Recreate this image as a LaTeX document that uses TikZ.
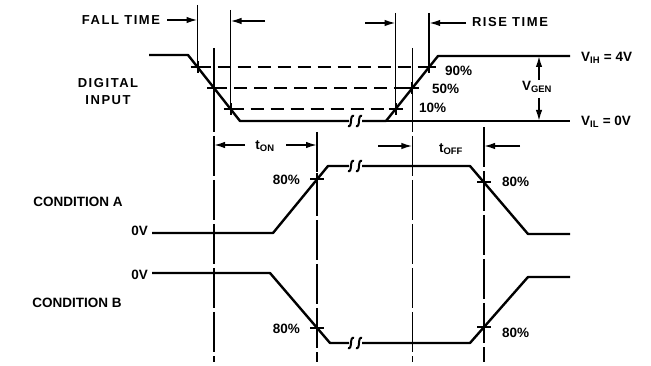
\documentclass[tikz,border=0pt]{standalone}
\usepackage{fontspec}
\setmainfont{Liberation Sans}
\usetikzlibrary{arrows.meta}

\tikzset{
    wave/.style={line width=2.4pt, line join=round},
    limit/.style={line width=1.5pt},
    marker/.style={line width=1.5pt, dash pattern=on 40pt off 4pt},
    level/.style={line width=1.5pt, dash pattern=on 13pt off 7pt},
    dim/.style={line width=1.6pt, -{Latex[length=11pt,width=6.5pt]}},
    txt/.style={font=\bfseries\fontsize{13.5}{17}\selectfont, inner sep=0pt},
    wide/.style={font=\bfseries\fontsize{13}{17}\selectfont\addfontfeature{LetterSpace=12}},
    brk/.style={line width=2pt},
    tick/.style={line width=2pt},
}
\newcommand{\brkmark}[2]{% two s-shaped break marks
    \foreach \dx in {0,8} {
        \draw[brk] (#1+\dx+3,#2-5) .. controls (#1+\dx-2,#2-7) and (#1+\dx+2,#2+7) .. (#1+\dx-3,#2+5);
    }
}

\begin{document}
\begin{tikzpicture}[x=1pt, y=-1pt]
    \useasboundingbox (0,0) rectangle (651,366);

    % crossing points
    \coordinate (f90) at (197.5,67);
    \coordinate (f50) at (214,88);
    \coordinate (f10) at (230.5,109);
    \coordinate (r10) at (395.6,109);
    \coordinate (r50) at (412.4,88);
    \coordinate (r90) at (429.2,67);
    \coordinate (a80) at (317,179.4);
    \coordinate (b80) at (317,327.8);
    \coordinate (a80r) at (484,182.4);
    \coordinate (b80r) at (484,327);

    % digital input
    \draw[wave] (149,55) -- (188,55) -- (240,121) -- (349,121);
    \draw[wave] (362,121) -- (386,121) -- (438,56) -- (570,56);
    \draw[limit] (386,121) -- (570,121);
    \brkmark{351}{121}

    % condition A
    \draw[wave] (152,233) -- (273,233) -- (328,166) -- (349,166);
    \draw[wave] (362,166) -- (470,166) -- (528,234) -- (570,234);
    \brkmark{351}{166}

    % condition B
    \draw[wave] (152,273) -- (270,273) -- (330,343) -- (349,343);
    \draw[wave] (362,343) -- (470,343) -- (528,277) -- (570,277);
    \brkmark{351}{343}

    \draw[level] (f90) -- (r90);
    \draw[level] (f50) -- (r50);
    \draw[level] (f10) -- (r10);

    \foreach \p in {f90,f50,f10,r10,r50,r90,a80,b80,a80r,b80r} {
        \draw[tick] ([xshift=-7pt]\p) -- ([xshift=7pt]\p);
        \draw[tick] ([yshift=-6pt]\p) -- ([yshift=6pt]\p);
    }

    \draw[limit] (f90 |- 0,5) -- (f90);
    \draw[limit] (f10 |- 0,10) -- (f10 |- 0,103);
    \draw[limit] (r10 |- 0,13) -- (r10 |- 0,103);
    \draw[limit] (r90 |- 0,13) -- (r90);

    \draw[marker] (f50 |- 0,48) -- (f50 |- 0,362);
    \draw[marker] (a80 |- 0,132) -- (a80 |- 0,362);
    \draw[marker] (r50 |- 0,48) -- (r50 |- 0,362);
    \draw[marker] (a80r |- 0,127) -- (a80r |- 0,362);

    % dimension arrows
    \coordinate (ft1) at (167,20);
    \coordinate (ft2) at (265,21);
    \coordinate (rt1) at (365,23);
    \coordinate (rt2) at (466,23);
    \coordinate (on1) at (245,145);
    \coordinate (on2) at (286,145);
    \coordinate (off1) at (378,146);
    \coordinate (off2) at (520,146);
    \coordinate (gen1) at (539,80);
    \coordinate (gen2) at (539,98);
    \coordinate (vh) at (539,56);
    \coordinate (vl) at (539,121);
    \draw[dim] (ft1) -- (ft1 -| f90);
    \draw[dim] (ft2) -- (ft2 -| f10);
    \draw[dim] (rt1) -- (rt1 -| r10);
    \draw[dim] (rt2) -- (rt2 -| r90);
    \draw[dim] (on1) -- (on1 -| f50);
    \draw[dim] (on2) -- (on2 -| a80);
    \draw[dim] (off1) -- (off1 -| r50);
    \draw[dim] (off2) -- (off2 -| a80r);
    \draw[dim] (gen1) -- (vh);
    \draw[dim] (gen2) -- (vl);

    % labels
    \node[txt, wide] (fall) at (121,20) {FALL TIME};
    \node[txt, wide] (rise) at (510,22) {RISE TIME};
    \node[txt, wide, align=center] (din) at (108,92) {DIGITAL\\INPUT};
    \node[txt, anchor=west] (p90) at (445,71) {90\%};
    \node[txt, anchor=west] (p50) at (432,89) {50\%};
    \node[txt, anchor=west] (p10) at (419,108) {10\%};
    \node[txt] (vgen) at (537,87) {V\textsubscript{GEN}};
    \node[txt, anchor=west] (vih) at (581,58) {V\textsubscript{IH} = 4V};
    \node[txt, anchor=west] (vil) at (581,122) {V\textsubscript{IL} = 0V};
    \node[txt] (ton) at (265,146) {t\textsubscript{ON}};
    \node[txt] (toff) at (451,149) {t\textsubscript{OFF}};
    \node[txt] (conda) at (78,202) {CONDITION A};
    \node[txt] (condb) at (77,303) {CONDITION B};
    \node[txt, anchor=east] (za) at (148,231) {0V};
    \node[txt, anchor=east] (zb) at (148,275) {0V};
    \node[txt, anchor=east] (pa1) at (300,180) {80\%};
    \node[txt, anchor=west] (pa2) at (502,182) {80\%};
    \node[txt, anchor=east] (pb1) at (300,329) {80\%};
    \node[txt, anchor=west] (pb2) at (502,333) {80\%};
\end{tikzpicture}
\end{document}
